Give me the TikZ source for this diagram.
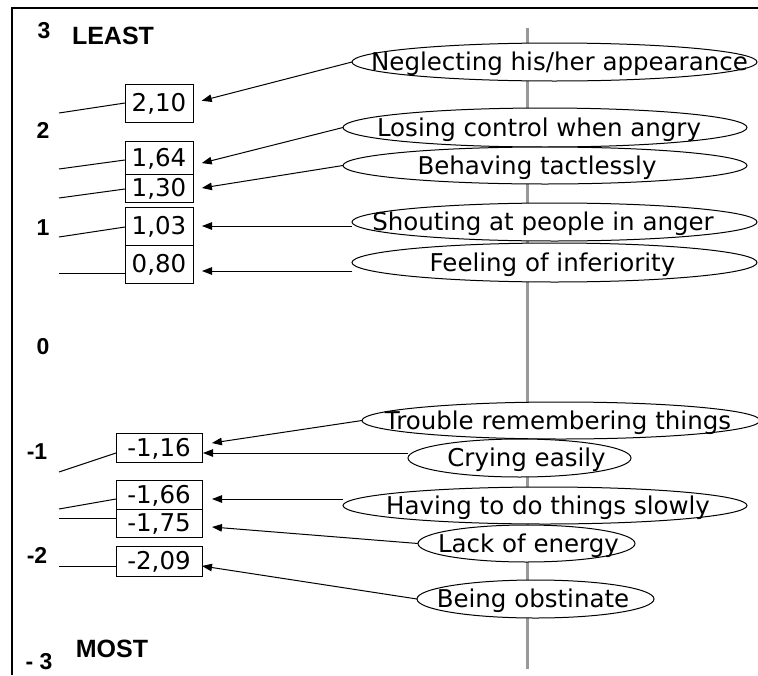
\documentclass[tikz,border=0pt]{standalone}
\usepackage{fontspec}
\setmainfont{DejaVu Sans}
\newfontfamily\axisfont{Liberation Sans}
\usetikzlibrary{shapes.geometric,arrows.meta}

\tikzset{
  ovalbox/.style={ellipse, draw, fill=white, line width=1pt, inner sep=0pt, outer sep=0pt},
  ovaltext/.style={inner sep=0pt, font=\fontsize{24.5}{29}\selectfont, text height=17.9pt, text depth=0pt},
  valbox/.style={draw, rectangle, line width=1pt, inner sep=0pt, outer sep=0pt,
                 font=\fontsize{24.5}{29}\selectfont, text height=17.9pt, text depth=0pt},
  scalenum/.style={inner sep=0pt, font=\axisfont\bfseries\fontsize{23}{27}\selectfont,
                   text height=16.5pt, text depth=0pt},
  scaleword/.style={inner sep=0pt, font=\axisfont\bfseries\fontsize{25}{29}\selectfont,
                    text height=18pt, text depth=0pt},
  pointer/.style={-{Triangle[length=10pt,width=7.5pt]}, line width=1pt},
  tick/.style={line width=1pt},
}

\begin{document}
\begin{tikzpicture}[x=1pt,y=-1pt]
\useasboundingbox (0,0) rectangle (758,675);

% frame
\draw[line width=1.5pt] (12,675) -- (12,8) -- (758,8);

% central grey axis
\draw[line width=3pt, black!40] (527,28) -- (527,669);

% scale labels
\node[scalenum]  (s3)    at (44,30)    {3};
\node[scaleword] (least) at (113,35)   {LEAST};
\node[scalenum]  (s2)    at (43,130)   {2};
\node[scalenum]  (s1)    at (43,227)   {1};
\node[scalenum]  (s0)    at (43,346)   {0};
\node[scalenum]  (sm1)   at (37,451)   {-1};
\node[scalenum]  (sm2)   at (37,555)   {-2};
\node[scalenum]  (sm3)   at (39,661)   {- 3};
\node[scaleword] (most)  at (112,648)  {MOST};

% item ovals
\node[ovalbox, minimum width=405pt, minimum height=38pt] (e1)  at (554.5,62)   {};
\node[ovalbox, minimum width=404pt, minimum height=39pt] (e2)  at (545,127.5)  {};
\node[ovalbox, minimum width=404pt, minimum height=37pt] (e3)  at (545,165.5)  {};
\node[ovalbox, minimum width=405pt, minimum height=38pt] (e4)  at (554.5,222)  {};
\node[ovalbox, minimum width=405pt, minimum height=39pt] (e5)  at (554.5,262.5) {};
\node[ovalbox, minimum width=398pt, minimum height=37pt] (e6)  at (561,420.5)  {};
\node[ovalbox, minimum width=223pt, minimum height=38pt] (e7)  at (519.5,458)  {};
\node[ovalbox, minimum width=404pt, minimum height=37pt] (e8)  at (545,505.5)  {};
\node[ovalbox, minimum width=217pt, minimum height=37pt] (e9)  at (526.5,543.5) {};
\node[ovalbox, minimum width=237pt, minimum height=38pt] (e10) at (535.5,599)  {};

% oval texts
\node[ovaltext] (t1)  at ([xshift=5pt]e1.center)    {Neglecting his/her appearance};
\node[ovaltext] (t2)  at ([xshift=-6pt]e2.center)   {Losing control when angry};
\node[ovaltext] (t3)  at ([xshift=-8pt]e3.center)   {Behaving tactlessly};
\node[ovaltext] (t4)  at ([xshift=-11.5pt]e4.center) {Shouting at people in anger};
\node[ovaltext] (t5)  at ([xshift=-2pt]e5.center)   {Feeling of inferiority};
\node[ovaltext] (t6)  at ([xshift=-3pt]e6.center)   {Trouble remembering things};
\node[ovaltext] (t7)  at ([xshift=7pt]e7.center)    {Crying easily};
\node[ovaltext] (t8)  at ([xshift=3pt]e8.center)    {Having to do things slowly};
\node[ovaltext] (t9)  at ([xshift=2pt]e9.center)    {Lack of energy};
\node[ovaltext] (t10) at ([xshift=-2.5pt]e10.center) {Being obstinate};

% value boxes
\node[valbox, minimum width=68pt, minimum height=38pt] (b210) at (159,103)   {2,10};
\node[valbox, minimum width=68pt, minimum height=33pt] (b164) at (159,157.5) {1,64};
\node[valbox, minimum width=68pt, minimum height=28pt] (b130) at (159,188)   {1,30};
\node[valbox, minimum width=68pt, minimum height=38pt] (b103) at (159,226)   {1,03};
\node[valbox, minimum width=68pt, minimum height=38pt] (b080) at (159,264)   {0,80};
\node[valbox, minimum width=86pt, minimum height=29pt] (bm116) at (159,447.5) {-1,16};
\node[valbox, minimum width=86pt, minimum height=29pt] (bm166) at (159,494.5) {-1,66};
\node[valbox, minimum width=86pt, minimum height=28pt] (bm175) at (159,523)   {-1,75};
\node[valbox, minimum width=86pt, minimum height=30pt] (bm209) at (159,561)   {-2,09};

% free ends of the scale ticks
\coordinate (l210)  at (59,113);
\coordinate (l164)  at (59,169);
\coordinate (l130)  at (59,198);
\coordinate (l103)  at (59,237);
\coordinate (l080)  at (59,273);
\coordinate (lm116) at (59,472);
\coordinate (lm166) at (59,509);
\coordinate (lm175) at (59,518);
\coordinate (lm209) at (59,566);

% scale ticks
\draw[tick] (l210)  -- (b210.west);
\draw[tick] (l164)  -- ([yshift=-2.5pt]b164.west);
\draw[tick] (l130)  -- ([yshift=-1pt]b130.west);
\draw[tick] (l103)  -- ([yshift=-1pt]b103.west);
\draw[tick] (l080)  -- ([yshift=-9pt]b080.west);
\draw[tick] (lm116) -- ([yshift=-5.5pt]bm116.west);
\draw[tick] (lm166) -- ([yshift=-4.5pt]bm166.west);
\draw[tick] (lm175) -- ([yshift=5pt]bm175.west);
\draw[tick] (lm209) -- ([yshift=-5pt]bm209.west);

% pointers from items to values
\draw[pointer, shorten >=9pt]  (e1.west) -- (b210.east);
\draw[pointer, shorten >=9pt]  (e2.west) -- ([yshift=-7.8pt]b164.east);
\draw[pointer, shorten >=9pt]  (e3.west) -- ([yshift=-1.4pt]b130.east);
\draw[pointer, shorten >=9pt]  (e4.west |- b103.east) -- (b103.east);
\draw[pointer, shorten >=9pt]  ([yshift=-8.5pt]e5.west) -- ([yshift=-7pt]b080.east);
\draw[pointer, shorten >=10pt] (e6.west) -- ([yshift=3pt]bm116.east);
\draw[pointer, shorten >=1pt]  ([yshift=5pt]e7.west) -- ([yshift=-5.5pt]bm116.east);
\draw[pointer, shorten >=10pt] ([yshift=6.5pt]e8.west) -- ([yshift=-4.5pt]bm166.east);
\draw[pointer, shorten >=10pt] (e9.west) -- ([yshift=-3.2pt]bm175.east);
\draw[pointer]                 (e10.west) -- ([yshift=-5pt]bm209.east);
\end{tikzpicture}
\end{document}
